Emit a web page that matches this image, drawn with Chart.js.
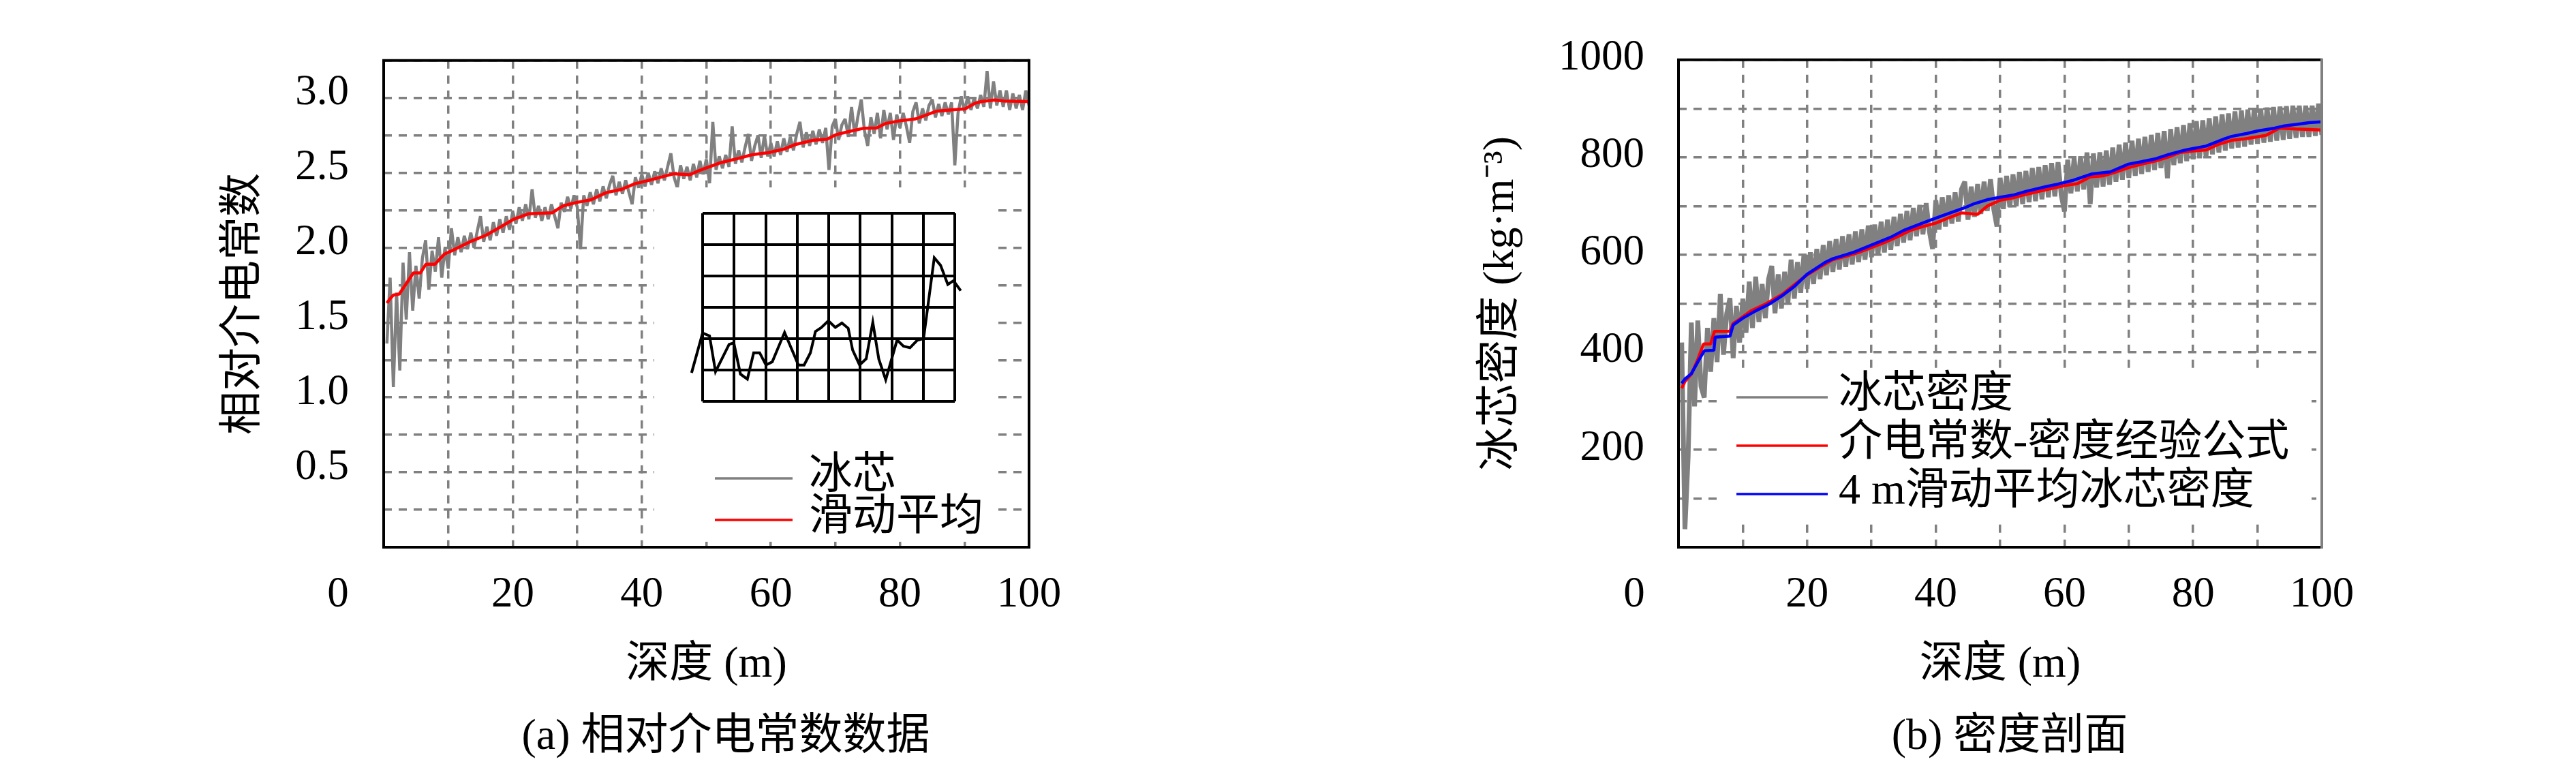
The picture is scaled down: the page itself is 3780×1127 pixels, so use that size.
<!DOCTYPE html>
<html>
<head>
<meta charset="utf-8">
<script src="https://cdn.jsdelivr.net/npm/chart.js@4.4.1/dist/chart.umd.min.js"></script>
<style>
  html, body { margin: 0; padding: 0; background: #fff; }
  #page { position: relative; width: 3780px; height: 1127px; overflow: hidden; background: #fff; }
  canvas { position: absolute; }
  .cap { position: absolute; font-size: 64px; font-family: 'Liberation Serif', 'Noto Sans CJK SC', serif;
         white-space: nowrap; line-height: 1; transform: translate(-50%, -50%); color: #000; }
</style>
</head>
<body>
<div id="page">
  <canvas id="chart-a" width="1890" height="1127" style="left:0px;top:0px"></canvas>
  <canvas id="chart-inset" width="470" height="330" style="left:990px;top:290px"></canvas>
  <canvas id="chart-b" width="1890" height="1127" style="left:1890px;top:0px"></canvas>
  <div class="cap" style="left:1065px;top:1078px">(a) 相对介电常数数据</div>
  <div class="cap" style="left:2949px;top:1078px">(b) 密度剖面</div>
</div>
<script>
// 冰芯采样深度 (m)，每 0.5 m 一个点
const iceDepth = Array.from({ length: 200 }, (_, i) => (i + 1) * 0.5);

// (a) 冰芯相对介电常数
const iceDielectric = [
  1.36,1.80,1.07,1.70,1.18,1.90,1.52,1.97,1.58,1.88,1.66,1.93,2.05,1.72,1.98,1.84,2.07,1.80,2.00,1.86,
  2.13,1.95,2.07,1.97,2.08,1.99,2.10,2.00,2.11,2.21,2.04,2.14,2.05,2.17,2.08,2.19,2.10,2.21,2.12,2.24,
  2.16,2.27,2.18,2.29,2.19,2.39,2.20,2.28,2.18,2.27,2.19,2.29,2.21,2.13,2.30,2.24,2.34,2.26,2.35,2.27,
  1.99,2.35,2.28,2.37,2.29,2.39,2.31,2.41,2.33,2.42,2.48,2.35,2.44,2.36,2.45,2.37,2.29,2.47,2.40,2.49,
  2.41,2.50,2.42,2.51,2.43,2.53,2.45,2.54,2.63,2.47,2.40,2.55,2.46,2.54,2.45,2.56,2.47,2.58,2.49,2.59,
  2.43,2.84,2.52,2.61,2.53,2.62,2.54,2.81,2.56,2.65,2.57,2.67,2.76,2.58,2.68,2.75,2.60,2.75,2.61,2.70,
  2.61,2.71,2.62,2.73,2.64,2.74,2.65,2.76,2.84,2.67,2.77,2.68,2.78,2.69,2.79,2.70,2.80,2.52,2.81,2.86,
  2.72,2.82,2.86,2.74,2.94,2.75,2.88,2.99,2.78,2.68,2.87,2.76,2.90,2.73,2.92,2.79,2.90,2.72,2.89,2.80,
  2.90,2.81,2.70,2.91,2.97,2.83,2.93,2.85,2.95,2.99,2.87,2.96,2.88,2.97,2.89,2.97,2.55,2.90,3.01,2.91,
  3.01,2.92,3.00,2.93,3.02,2.94,3.18,2.93,3.11,2.95,3.05,2.94,3.05,2.92,3.03,2.93,3.02,2.92,3.05,2.95
];

// (a) 滑动平均
const avgDepthA = [0.5,1.0,1.5,2.4,3.5,4.6,5.7,6.55,7.95,9.4,11.3,13.4,15.9,18.0,20.1,22.4,26.1,27.8,30.0,32.1,
  34.5,36.9,38.9,41.0,45.0,47.4,49.0,52.3,55.1,57.1,59.6,62.0,63.7,66.6,68.7,70.1,72.2,74.3,76.4,77.8,
  79.9,82.4,83.5,85.6,87.7,90.1,91.6,92.6,94.7,96.1,100];
const avgDielectric = [1.63,1.66,1.684,1.69,1.76,1.832,1.832,1.89,1.89,1.957,1.995,2.04,2.084,2.136,2.189,2.226,2.233,2.28,2.303,2.32,
  2.368,2.39,2.427,2.449,2.494,2.487,2.517,2.569,2.598,2.621,2.635,2.658,2.688,2.718,2.725,2.755,2.777,2.797,2.80,2.83,
  2.847,2.86,2.877,2.911,2.919,2.927,2.964,2.976,2.986,2.979,2.976];

// (a) 图中小插图（格子坐标）
const insetX = [-0.58,-0.35,0,0.22,0.41,0.84,0.99,1.20,1.42,1.62,1.81,2.01,2.21,2.60,3.04,3.22,3.42,3.58,3.76,3.99,
  4.21,4.42,4.62,4.76,4.98,5.19,5.40,5.59,5.81,6.17,6.37,6.58,6.81,7.01,7.35,7.55,7.78,7.96,8.19,8.38,8.56,8.76,8.99];
const insetY = [1.06,0.91,2.18,2.09,0.95,1.82,1.87,0.87,0.71,1.55,1.55,1.16,1.26,2.20,1.16,1.16,1.55,2.23,2.35,2.57,
  2.36,2.50,2.33,1.64,1.16,1.36,2.52,1.35,0.69,1.96,1.76,1.71,1.95,2.00,4.58,4.34,3.73,3.85,3.53,2.95,3.11,2.90,3.08];

// (b) 冰芯密度 (kg·m^-3)
const iceDensity = [
  420,37,186,461,289,465,330,307,450,360,470,380,520,395,480,511,388,495,420,510,
  440,545,450,555,462,540,470,550,577,480,560,490,565,500,590,510,585,522,600,530,
  605,540,612,550,620,558,628,565,632,570,638,575,642,580,648,585,652,590,660,595,
  662,600,668,605,672,610,678,618,684,625,690,630,696,638,702,642,706,648,612,712,
  652,718,658,722,664,728,668,735,750,672,740,678,745,684,750,690,755,694,658,758,
  694,762,698,765,700,770,704,772,708,778,710,780,714,784,718,788,720,790,722,689,
  795,726,798,730,802,734,810,704,808,738,810,740,814,744,820,750,826,754,830,758,
  834,762,838,766,842,770,846,774,850,778,854,757,858,784,862,788,866,792,870,796,
  874,798,876,802,880,806,884,810,888,814,890,818,894,820,896,822,898,826,900,828,
  900,830,902,832,903,834,904,836,905,838,906,840,906,842,906,842,906,844,910,846
];

// (b) 介电常数-密度经验公式
const formulaDepth = [0.5,1,2,3,3.9,5,5.6,8,8.5,9.2,11.3,13.4,16.25,19.8,22,24,26,28,30,32,
  34,36,38,40,42,44,46.5,48,50,52,54,56,58,60,62,64,66,68,70,72,74,76,78,80,82,84,86,88,90,91.3,93.4,96,98,100];
const formulaDensity = [326,340,355,385,417,417,443,443,459,465,485,498,520,557,575,590,597,605,615,625,
  637,650,658,665,676,686,683,700,712,717,724,730,736,742,746,760,762,770,779,786,792,800,810,813,815,
  827,835,838,842,845,860,858,857,856];

// (b) 4 m 滑动平均冰芯密度
const avgDepthB = [0.5,1,2,3,4,5.5,5.7,8,8.5,10,12,14,16,18,20,22.75,24,26,27.4,30,33,35,38.7,41,44.4,
  46,48,50,52.2,54,57.2,59,61.4,64.3,67.1,69.95,72,74.2,76,78.5,80,82,84.9,86,88.4,90,92.7,94,96.9,98,100];
const avgDensity = [336,345,356,380,403,404,431,433,456,470,485,498,515,535,560,584,592,600,606,620,
  636,650,669,680,696,705,713,718,723,730,740,745,753,766,770,786,791,797,805,814,818,823,838,843,849,
  854,860,864,869,871,873];

const FONT = "'Liberation Serif', 'Noto Sans CJK SC', serif";
Chart.defaults.font.family = FONT;
Chart.defaults.color = '#000';

function toPoints(xs, ys) {
  return xs.map((x, i) => ({ x: x, y: ys[i] }));
}

function lineSet(label, xs, ys, color, width, order) {
  return {
    label: label, data: toPoints(xs, ys), borderColor: color, borderWidth: width,
    pointRadius: 0, tension: 0, fill: false, order: order, borderJoinStyle: 'bevel'
  };
}

// 白色图例框 + 坐标框 + 角上的 0
const frameLegend = {
  id: 'frameLegend',
  afterDatasetsDraw(chart, args, o) {
    const ctx = chart.ctx, a = chart.chartArea;
    ctx.save();
    ctx.fillStyle = '#fff';
    ctx.fillRect(o.box[0], o.box[1], o.box[2] - o.box[0], o.box[3] - o.box[1]);
    ctx.font = '64px ' + FONT;
    ctx.textBaseline = 'middle';
    ctx.textAlign = 'left';
    o.items.forEach(it => {
      const ds = chart.data.datasets[it.ds];
      ctx.strokeStyle = ds.borderColor;
      ctx.lineWidth = 3.5;
      ctx.beginPath();
      ctx.moveTo(o.lineX[0], it.y);
      ctx.lineTo(o.lineX[1], it.y);
      ctx.stroke();
      ctx.fillStyle = '#000';
      ctx.fillText(ds.label, o.textX, it.y - 3);
    });
    ctx.lineWidth = 4;
    ctx.strokeStyle = '#000';
    ctx.beginPath();
    ctx.moveTo(a.right, a.top);
    ctx.lineTo(a.left, a.top);
    ctx.lineTo(a.left, a.bottom);
    ctx.lineTo(a.right, a.bottom);
    ctx.stroke();
    ctx.strokeStyle = o.rightColor;
    ctx.beginPath();
    ctx.moveTo(a.right, a.top - 2);
    ctx.lineTo(a.right, a.bottom + 2);
    ctx.stroke();
    const xs = chart.scales.x;
    ctx.font = '63px ' + FONT;
    ctx.textAlign = 'center';
    ctx.fillStyle = '#000';
    ctx.fillText('0', a.left - o.zeroShift, xs.top + xs.options.ticks.padding + 63 * 1.2 / 2);
    ctx.restore();
  }
};

function axisOptions(cfg) {
  const grid = { color: '#808080', lineWidth: 3.5, drawTicks: false };
  return {
    x: {
      type: 'linear', min: 0, max: 100,
      ticks: { stepSize: 10, autoSkip: false, maxRotation: 0, minRotation: 0, padding: 33,
               font: { size: 63 }, callback: v => (v > 0 && v % 20 === 0) ? String(v) : '' },
      grid: grid,
      border: { display: false, dash: [12, 10] },
      title: { display: true, text: '深度 (m)', font: { size: 64 }, padding: { top: 0, bottom: 112 } },
      afterFit: s => { s.height = cfg.xHeight; }
    },
    y: {
      type: 'linear', min: cfg.yMin, max: cfg.yMax,
      ticks: { stepSize: cfg.yStep, autoSkip: false, padding: cfg.yPad, labelOffset: cfg.yLabelShift,
               font: { size: 63 }, callback: cfg.yLabel },
      grid: grid,
      border: { display: false, dash: [12, 10] },
      title: { display: true, text: cfg.yTitle, font: { size: 64 }, padding: { top: 0, bottom: 0 } },
      afterFit: s => { s.width = cfg.yWidth; }
    }
  };
}

// (a) 相对介电常数
new Chart(document.getElementById('chart-a'), {
  type: 'line',
  data: {
    datasets: [
      lineSet('冰芯', iceDepth, iceDielectric, '#808080', 4.5, 2),
      lineSet('滑动平均', avgDepthA, avgDielectric, '#ff0000', 4.5, 1)
    ]
  },
  options: {
    responsive: false, animation: false, devicePixelRatio: 1,
    layout: { padding: { left: 320, top: 76, right: 380, bottom: 0 } },
    plugins: {
      legend: { display: false }, tooltip: { enabled: false },
      frameLegend: {
        box: [960, 275, 1465, 795], lineX: [1049, 1163], textX: 1187,
        items: [{ ds: 0, y: 702 }, { ds: 1, y: 763 }],
        rightColor: '#000', zeroShift: 67
      }
    },
    scales: axisOptions({
      yMin: 0, yMax: 3.25, yStep: 0.25, yPad: 51, yLabelShift: -7, yWidth: 243, xHeight: 324,
      yTitle: '相对介电常数',
      yLabel: v => (v > 0.01 && v < 3.1 && Math.abs(v * 2 - Math.round(v * 2)) < 1e-6) ? v.toFixed(1) : ''
    })
  },
  plugins: [frameLegend]
});

// (a) 中的小插图
new Chart(document.getElementById('chart-inset'), {
  type: 'line',
  data: {
    datasets: [{
      data: toPoints(insetX, insetY), borderColor: '#000', borderWidth: 4,
      pointRadius: 0, tension: 0, fill: false, clip: false
    }]
  },
  options: {
    responsive: false, animation: false, devicePixelRatio: 1,
    layout: { padding: { left: 41, top: 23, right: 59, bottom: 31 } },
    plugins: { legend: { display: false }, tooltip: { enabled: false } },
    scales: {
      x: { type: 'linear', min: 0, max: 8, ticks: { display: false, stepSize: 1 },
           grid: { color: '#000', lineWidth: 4, drawTicks: false }, border: { display: false },
           afterFit: s => { s.height = 0; } },
      y: { type: 'linear', min: 0, max: 6, ticks: { display: false, stepSize: 1 },
           grid: { color: '#000', lineWidth: 4, drawTicks: false }, border: { display: false },
           afterFit: s => { s.width = 0; } }
    }
  }
});

// (b) 密度剖面
new Chart(document.getElementById('chart-b'), {
  type: 'line',
  data: {
    datasets: [
      lineSet('冰芯密度', iceDepth, iceDensity, '#808080', 7, 3),
      lineSet('介电常数-密度经验公式', formulaDepth, formulaDensity, '#ff0000', 4.5, 2),
      lineSet('4 m滑动平均冰芯密度', avgDepthB, avgDensity, '#0000ff', 4.5, 1)
    ]
  },
  options: {
    responsive: false, animation: false, devicePixelRatio: 1,
    layout: { padding: { left: 275, top: 43, right: 373, bottom: 0 } },
    plugins: {
      legend: { display: false }, tooltip: { enabled: false },
      frameLegend: {
        box: [630, 540, 1502, 766], lineX: [658, 792], textX: 808,
        items: [{ ds: 0, y: 583 }, { ds: 1, y: 654 }, { ds: 2, y: 725 }],
        rightColor: '#808080', zeroShift: 65
      }
    },
    scales: axisOptions({
      yMin: 0, yMax: 1000, yStep: 100, yPad: 50, yLabelShift: -2, yWidth: 298, xHeight: 324,
      yTitle: '冰芯密度 (kg·m⁻³)',
      yLabel: v => (v > 0 && v % 200 === 0) ? String(v) : ''
    })
  },
  plugins: [frameLegend]
});
</script>
</body>
</html>
